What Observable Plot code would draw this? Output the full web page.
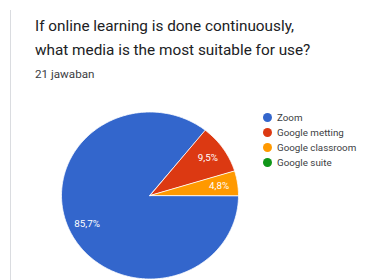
<!DOCTYPE html>
<html>
<head>
<meta charset="utf-8">
<script src="https://cdn.jsdelivr.net/npm/d3@7"></script>
<script src="https://cdn.jsdelivr.net/npm/@observablehq/plot@0.6"></script>
<style>
  html, body { margin: 0; padding: 0; background: #fff; }
  #wrap { position: relative; width: 386px; height: 280px; overflow: hidden; font-family: Roboto, "Noto Sans", sans-serif; }
  #border { position: absolute; left: 10px; top: 10px; width: 1px; height: 280px; background: #dadce0; }
  #title { position: absolute; left: 35px; top: 14px; font-size: 14.6px; line-height: 24px; color: #202124; transform: scaleX(1.05); transform-origin: 0 0; white-space: nowrap; }
  #subtitle { position: absolute; left: 35px; top: 68px; font-size: 11.2px; color: #3c4043; transform: scaleX(1.04); transform-origin: 0 0; }
  #chart { position: absolute; left: 0; top: 0; }
  #legend { position: absolute; left: 263px; top: 110px; font-size: 9.8px; color: #3c4043; }
  .item { display: flex; align-items: center; height: 15px; }
  .dot { width: 9px; height: 9px; border-radius: 50%; margin-right: 5px; }
</style>
</head>
<body>
<div id="wrap">
  <div id="border"></div>
  <div id="chart"></div>
  <div id="title"></div>
  <div id="subtitle"></div>
  <div id="legend"></div>
</div>
<script>
const categories = ["Zoom", "Google metting", "Google classroom", "Google suite"];
const counts = [18, 2, 1, 0];
const colors = ["#3366cc", "#dc3912", "#ff9900", "#109618"];
const titleLines = ["If online learning is done continuously,", "what media is the most suitable for use?"];
const subtitleText = "21 jawaban";

// layout (pixels)
const W = 386, H = 280;
const cx = 149.5, cy = 195, rx = 88.5, ry = 83.5;

const total = d3.sum(counts);
const data = categories.map((c, i) => ({category: c, value: counts[i], color: colors[i]}));

// pie angles: clockwise from 12 o'clock, starting at 3 o'clock
const pie = d3.pie().value(d => d.value).sort(null).startAngle(Math.PI / 2).endAngle(Math.PI / 2 + 2 * Math.PI);
const arcs = pie(data).filter(a => a.data.value > 0);

// outline points for each slice (unit circle coordinates, y up)
const outline = [];
for (const a of arcs) {
  const n = Math.max(2, Math.ceil((a.endAngle - a.startAngle) / (Math.PI / 180)));
  outline.push({category: a.data.category, x: 0, y: 0});
  for (let k = 0; k <= n; k++) {
    const t = a.startAngle + (a.endAngle - a.startAngle) * k / n;
    outline.push({category: a.data.category, x: Math.sin(t), y: Math.cos(t)});
  }
}

const labels = arcs.map(a => {
  const m = (a.startAngle + a.endAngle) / 2;
  const r = 0.79;
  return {
    x: Math.sin(m) * r,
    y: Math.cos(m) * r,
    text: (a.data.value / total * 100).toFixed(1).replace(".", ",") + "%"
  };
});

const chart = Plot.plot({
  width: W,
  height: H,
  margin: 0,
  x: {domain: [-cx / rx, (W - cx) / rx], axis: null},
  y: {domain: [-(H - cy) / ry, cy / ry], axis: null},
  color: {domain: categories, range: colors},
  marks: [
    Plot.line(outline, {x: "x", y: "y", z: "category", fill: "category", stroke: "#fff", strokeWidth: 0.8, curve: "linear-closed"}),
    Plot.text(labels, {x: "x", y: "y", text: "text", fill: "#fff", fontSize: 9.8, fontFamily: "Roboto, sans-serif"})
  ]
});
document.getElementById("chart").appendChild(chart);

const title = d3.select("#title");
titleLines.forEach(l => title.append("div").text(l));
d3.select("#subtitle").text(subtitleText);

const legend = d3.select("#legend");
categories.forEach((c, i) => {
  const it = legend.append("div").attr("class", "item");
  it.append("div").attr("class", "dot").style("background", colors[i]);
  it.append("span").text(c);
});
</script>
</body>
</html>
